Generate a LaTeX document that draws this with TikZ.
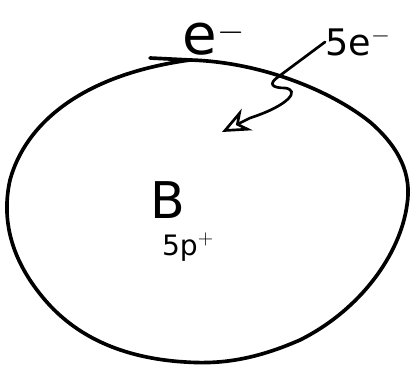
\documentclass[tikz,border=0pt]{standalone}
\usepackage{fontspec}
\setmainfont{DejaVu Sans}
\usetikzlibrary{arrows.meta}

\begin{document}
\begin{tikzpicture}[
  x=0.025cm,y=-0.025cm,
  shell/.style={line width=2.6pt,line join=round,line cap=round},
  label/.style={inner sep=0pt,font=\fontsize{26}{28}\selectfont},
  arrow/.style={-{Stealth[open,length=7mm,width=6mm]},line width=1.9pt,line cap=round}]
  \useasboundingbox (0,0) rectangle (410,366);
  % outer shell of the atom
  \draw[shell] (150,58) -- (190,60)
    .. controls (260,62) and (330,90) .. (370,122)
    .. controls (400,148) and (412,175) .. (407,205)
    .. controls (400,255) and (360,310) .. (300,340)
    .. controls (250,362) and (215,364) .. (185,362)
    .. controls (120,358) and (75,335) .. (45,300)
    .. controls (15,265) and (0,225) .. (10,180)
    .. controls (25,125) and (80,75) .. (190,60);
  \node[label,font=\fontsize{40}{42}\selectfont] (e) at (214,38) {e$^{-}$};
  \node[label] (fivee) at (358,42) {5e$^{-}$};
  \node[label,font=\fontsize{36}{38}\selectfont] (B) at (168,200) {B};
  \node[label,font=\fontsize{20}{22}\selectfont] (protons) at (188,247) {5p$^{+}$};
  \coordinate (tip) at (222,132);
  \draw[arrow] (fivee.west) -- (278,77)
    .. controls (268,84) and (272,88) .. (285,88)
    .. controls (300,90) and (290,105) .. (250,118) -- (tip);
\end{tikzpicture}
\end{document}
